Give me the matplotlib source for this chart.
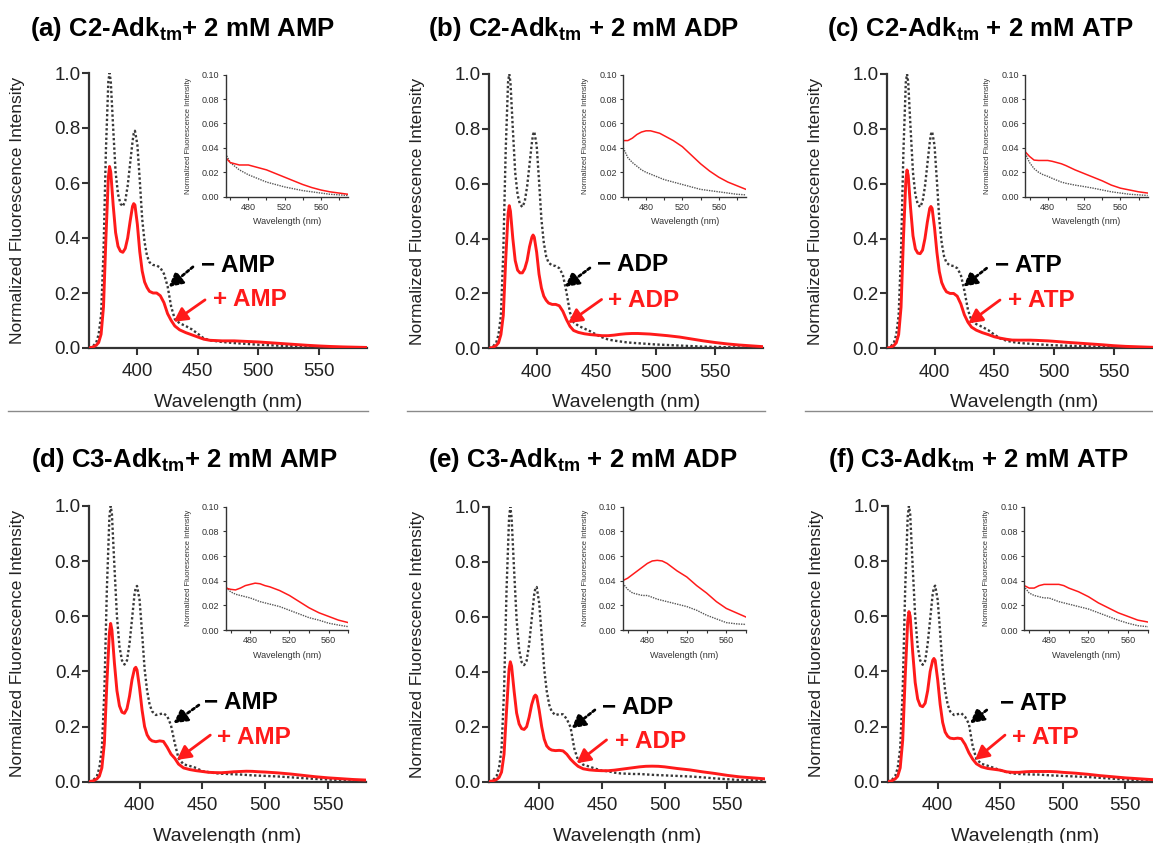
import matplotlib
matplotlib.use("Agg")
import matplotlib.pyplot as plt
from matplotlib.ticker import FormatStrFormatter

plt.rcParams['font.family'] = ['Liberation Sans', 'DejaVu Sans']
plt.rcParams['mathtext.fontset'] = 'custom'
plt.rcParams['mathtext.rm'] = 'Liberation Sans'
plt.rcParams['mathtext.bf'] = 'Liberation Sans:bold'
plt.rcParams['mathtext.it'] = 'Liberation Sans:italic'

# ---------------------------------------------------------------- data
wavelength = [360, 363, 366, 368, 370, 372, 374, 376, 377, 378,
              380, 382, 384, 386, 388, 390, 392, 394, 396, 397, 398,
              400, 402, 404, 406, 408, 410,
              413, 416, 419, 422, 425, 428, 431, 435, 440, 445, 450,
              455, 460, 465, 470, 475, 480, 485, 490, 495, 500,
              510, 520, 530, 540, 550, 560, 570, 580, 590]

titles = [r"(a) C2-Adk$_{\mathbf{tm}}$+ 2 mM AMP",
          r"(b) C2-Adk$_{\mathbf{tm}}$ + 2 mM ADP",
          r"(c) C2-Adk$_{\mathbf{tm}}$ + 2 mM ATP",
          r"(d) C3-Adk$_{\mathbf{tm}}$+ 2 mM AMP",
          r"(e) C3-Adk$_{\mathbf{tm}}$ + 2 mM ADP",
          r"(f) C3-Adk$_{\mathbf{tm}}$ + 2 mM ATP"]
nucleotides = ["AMP", "ADP", "ATP", "AMP", "ADP", "ATP"]

# (a) C2 + AMP
c2_amp_free = [0.000, 0.005, 0.020, 0.050, 0.120, 0.350, 0.720, 0.970, 1.000, 0.970,
               0.800, 0.640, 0.560, 0.525, 0.515, 0.535, 0.590, 0.670, 0.750, 0.780, 0.790,
               0.740, 0.610, 0.470, 0.385, 0.335, 0.312,
               0.302, 0.300, 0.292, 0.270, 0.225, 0.150, 0.105, 0.090, 0.080, 0.068, 0.052,
               0.035, 0.028, 0.025, 0.022, 0.020, 0.018, 0.0165, 0.015, 0.0135, 0.012,
               0.010, 0.008, 0.0065, 0.005, 0.004, 0.003, 0.002, 0.0015, 0.001]
c2_amp_bound = [0.000, 0.003, 0.010, 0.020, 0.050, 0.150, 0.400, 0.620, 0.660, 0.640,
                0.520, 0.420, 0.370, 0.352, 0.348, 0.362, 0.400, 0.460, 0.515, 0.525, 0.520,
                0.450, 0.350, 0.280, 0.240, 0.220, 0.206,
                0.200, 0.200, 0.190, 0.165, 0.125, 0.100, 0.080, 0.066, 0.056, 0.048, 0.040,
                0.032, 0.028, 0.027, 0.026, 0.026, 0.026, 0.025, 0.024, 0.023, 0.022,
                0.019, 0.016, 0.013, 0.010, 0.0075, 0.0055, 0.004, 0.003, 0.002]

# (b) C2 + ADP
c2_adp_free = [0.000, 0.005, 0.020, 0.050, 0.120, 0.350, 0.720, 0.970, 1.000, 0.970,
               0.800, 0.640, 0.560, 0.525, 0.515, 0.535, 0.590, 0.670, 0.750, 0.780, 0.790,
               0.740, 0.610, 0.470, 0.385, 0.335, 0.312,
               0.302, 0.300, 0.292, 0.268, 0.205, 0.130, 0.095, 0.082, 0.072, 0.062, 0.050,
               0.040, 0.032, 0.028, 0.025, 0.022, 0.020, 0.0185, 0.017, 0.0155, 0.014,
               0.012, 0.010, 0.008, 0.006, 0.005, 0.004, 0.003, 0.002, 0.0015]
c2_adp_bound = [0.000, 0.003, 0.010, 0.020, 0.050, 0.120, 0.320, 0.490, 0.520, 0.500,
                0.400, 0.320, 0.285, 0.275, 0.275, 0.290, 0.320, 0.370, 0.405, 0.413, 0.405,
                0.350, 0.270, 0.220, 0.190, 0.175, 0.165,
                0.160, 0.160, 0.155, 0.135, 0.105, 0.080, 0.065, 0.058, 0.053, 0.050, 0.048,
                0.046, 0.046, 0.048, 0.051, 0.053, 0.054, 0.054, 0.053, 0.052, 0.050,
                0.046, 0.041, 0.034, 0.027, 0.021, 0.016, 0.012, 0.009, 0.006]

# (c) C2 + ATP
c2_atp_free = [0.000, 0.005, 0.020, 0.050, 0.120, 0.350, 0.720, 0.970, 1.000, 0.970,
               0.800, 0.640, 0.560, 0.525, 0.515, 0.535, 0.590, 0.670, 0.750, 0.780, 0.790,
               0.740, 0.610, 0.470, 0.385, 0.335, 0.312,
               0.302, 0.300, 0.292, 0.268, 0.210, 0.140, 0.100, 0.088, 0.078, 0.066, 0.050,
               0.036, 0.028, 0.023, 0.020, 0.018, 0.0167, 0.015, 0.0135, 0.012, 0.011,
               0.0095, 0.0083, 0.007, 0.0055, 0.004, 0.003, 0.002, 0.0015, 0.001]
c2_atp_bound = [0.000, 0.003, 0.010, 0.020, 0.050, 0.150, 0.400, 0.610, 0.650, 0.630,
                0.510, 0.410, 0.362, 0.347, 0.345, 0.358, 0.400, 0.460, 0.510, 0.517, 0.510,
                0.440, 0.350, 0.280, 0.240, 0.220, 0.206,
                0.200, 0.200, 0.190, 0.162, 0.122, 0.095, 0.077, 0.066, 0.057, 0.050, 0.042,
                0.037, 0.033, 0.030, 0.0297, 0.0297, 0.0297, 0.029, 0.028, 0.027, 0.0255,
                0.022, 0.019, 0.016, 0.013, 0.0095, 0.007, 0.0055, 0.004, 0.003]

# (d) C3 + AMP
c3_amp_free = [0.000, 0.005, 0.020, 0.050, 0.120, 0.330, 0.700, 0.960, 1.000, 0.970,
               0.780, 0.600, 0.490, 0.440, 0.425, 0.440, 0.500, 0.590, 0.680, 0.705, 0.710,
               0.660, 0.540, 0.410, 0.330, 0.280, 0.255,
               0.242, 0.245, 0.248, 0.238, 0.205, 0.140, 0.085, 0.063, 0.057, 0.050, 0.038,
               0.035, 0.031, 0.029, 0.028, 0.027, 0.026, 0.0245, 0.023, 0.022, 0.021,
               0.019, 0.016, 0.013, 0.010, 0.008, 0.0055, 0.004, 0.0027, 0.002]
c3_amp_bound = [0.000, 0.003, 0.010, 0.020, 0.050, 0.140, 0.360, 0.540, 0.574, 0.550,
                0.430, 0.330, 0.275, 0.252, 0.248, 0.265, 0.310, 0.370, 0.410, 0.415, 0.405,
                0.340, 0.260, 0.200, 0.170, 0.155, 0.148,
                0.145, 0.148, 0.146, 0.125, 0.100, 0.085, 0.064, 0.050, 0.044, 0.040, 0.037,
                0.034, 0.033, 0.0325, 0.034, 0.036, 0.037, 0.038, 0.0375, 0.036, 0.035,
                0.032, 0.028, 0.023, 0.018, 0.014, 0.011, 0.008, 0.006, 0.005]

# (e) C3 + ADP
c3_adp_free = [0.000, 0.005, 0.020, 0.050, 0.120, 0.330, 0.700, 0.960, 1.000, 0.960,
               0.770, 0.590, 0.480, 0.435, 0.424, 0.440, 0.500, 0.590, 0.680, 0.705, 0.708,
               0.650, 0.530, 0.410, 0.330, 0.280, 0.255,
               0.242, 0.246, 0.245, 0.228, 0.198, 0.120, 0.078, 0.062, 0.055, 0.047, 0.040,
               0.038, 0.033, 0.030, 0.029, 0.028, 0.028, 0.0265, 0.025, 0.024, 0.023,
               0.021, 0.019, 0.016, 0.012, 0.009, 0.006, 0.005, 0.0045, 0.004]
c3_adp_bound = [0.000, 0.003, 0.008, 0.015, 0.035, 0.100, 0.260, 0.410, 0.436, 0.420,
                0.330, 0.250, 0.210, 0.193, 0.190, 0.200, 0.235, 0.280, 0.310, 0.315, 0.310,
                0.260, 0.200, 0.155, 0.130, 0.120, 0.115,
                0.113, 0.114, 0.112, 0.100, 0.082, 0.068, 0.056, 0.047, 0.043, 0.041, 0.040,
                0.040, 0.042, 0.045, 0.048, 0.051, 0.054, 0.056, 0.0565, 0.056, 0.054,
                0.048, 0.043, 0.036, 0.030, 0.023, 0.0175, 0.014, 0.0105, 0.008]

# (f) C3 + ATP
c3_atp_free = [0.000, 0.005, 0.020, 0.050, 0.120, 0.330, 0.700, 0.960, 1.000, 0.970,
               0.780, 0.600, 0.490, 0.440, 0.424, 0.438, 0.500, 0.590, 0.680, 0.705, 0.711,
               0.660, 0.540, 0.410, 0.330, 0.280, 0.255,
               0.242, 0.245, 0.248, 0.235, 0.210, 0.130, 0.082, 0.065, 0.058, 0.050, 0.042,
               0.035, 0.030, 0.028, 0.027, 0.026, 0.026, 0.0245, 0.023, 0.022, 0.021,
               0.019, 0.017, 0.014, 0.011, 0.008, 0.0055, 0.0035, 0.0027, 0.002]
c3_atp_bound = [0.000, 0.003, 0.010, 0.020, 0.050, 0.150, 0.380, 0.580, 0.617, 0.600,
                0.470, 0.360, 0.300, 0.276, 0.272, 0.285, 0.330, 0.400, 0.440, 0.447, 0.440,
                0.370, 0.280, 0.215, 0.180, 0.165, 0.158,
                0.156, 0.158, 0.156, 0.135, 0.105, 0.082, 0.065, 0.054, 0.048, 0.045, 0.042,
                0.036, 0.034, 0.034, 0.036, 0.037, 0.037, 0.037, 0.037, 0.036, 0.034,
                0.031, 0.027, 0.022, 0.018, 0.014, 0.011, 0.008, 0.0065, 0.005]

free_spectra = [c2_amp_free, c2_adp_free, c2_atp_free, c3_amp_free, c3_adp_free, c3_atp_free]
bound_spectra = [c2_amp_bound, c2_adp_bound, c2_atp_bound, c3_amp_bound, c3_adp_bound, c3_atp_bound]

main_ticks_x = [400, 450, 500, 550]
main_ticks_y = [0.0, 0.2, 0.4, 0.6, 0.8, 1.0]
inset_ticks_x = [480, 520, 560]
inset_minor_x = [460, 500, 540, 580]
inset_ticks_y = [0.00, 0.02, 0.04, 0.06, 0.08, 0.10]

# ---------------------------------------------------------------- layout (pixels)
W, H = 1153, 843
fig = plt.figure(figsize=(W / 100, H / 100), dpi=100)


def box(left, top, right, bottom):
    return [left / W, 1 - bottom / H, (right - left) / W, (bottom - top) / H]


main_boxes = [(89, 73, 367, 348), (489, 74, 763, 348.3), (886.7, 74, 1161.6, 348.3),
              (89.3, 506, 365.7, 781.7), (489, 506.7, 765, 781.7), (887.7, 506, 1162.5, 781.7)]
main_xmax = [590, 590, 590, 580, 580, 580]
inset_boxes = [(225.7, 74.7, 348, 196.7), (623.3, 74.7, 746, 196.7), (1025, 74.7, 1147.7, 196.7),
               (225.7, 506.7, 348.3, 630), (622.7, 506.7, 746, 630), (1024.3, 506.7, 1147.7, 630)]
title_x = [183, 583, 980, 184, 583, 978]
title_base = [36, 36, 36, 466.7, 466.7, 466.7]

# label anchors in data units: (minus text, plus text, black tail, black head, red tail, red head)
notes = [
    ((452.7, 0.309), (462.7, 0.182), (446.0, 0.295), (426.0, 0.222), (456.0, 0.175), (430.0, 0.095)),
    ((450.3, 0.311), (459.7, 0.183), (444.7, 0.293), (423.7, 0.224), (454.5, 0.178), (426.5, 0.092)),
    ((450.6, 0.310), (461.1, 0.182), (443.6, 0.292), (424.1, 0.225), (454.8, 0.176), (428.3, 0.091)),
    ((450.9, 0.296), (461.6, 0.169), (447.2, 0.278), (427.0, 0.212), (456.3, 0.169), (429.7, 0.079)),
    ((449.7, 0.279), (460.3, 0.152), (444.4, 0.261), (425.8, 0.194), (453.7, 0.152), (429.8, 0.067)),
    ((449.9, 0.290), (459.8, 0.169), (439.3, 0.260), (425.9, 0.212), (453.9, 0.169), (429.9, 0.079)),
]

RED = '#ff1a1a'
DARK = '#383838'
SPINE = '#333333'
HEAD = '-|>,head_length=0.75,head_width=0.4'

for i in range(6):
    l, t, r, b = main_boxes[i]
    ax = fig.add_axes(box(l, t, r, b))
    ax.plot(wavelength, free_spectra[i], color=DARK, lw=1.7, ls=(0, (1, 1)), zorder=3)
    ax.plot(wavelength, bound_spectra[i], color=RED, lw=2.1, zorder=4)
    ax.set_xlim(360, main_xmax[i])
    ax.set_ylim(0, 1.0)
    ax.set_xticks(main_ticks_x)
    ax.set_yticks(main_ticks_y)
    ax.yaxis.set_major_formatter(FormatStrFormatter('%.1f'))
    for s in ('top', 'right'):
        ax.spines[s].set_visible(False)
    for s in ('left', 'bottom'):
        ax.spines[s].set_linewidth(1.6)
        ax.spines[s].set_color(SPINE)
    ax.tick_params(axis='both', direction='out', length=5, width=1.5, color=SPINE,
                   labelsize=13.5, labelcolor='#222222')
    ax.tick_params(axis='x', pad=6)
    ax.tick_params(axis='y', pad=1)
    ax.patch.set_alpha(0)

    # axis titles
    fig.text((l + r) / 2 / W, 1 - (b + 59) / H, "Wavelength (nm)", ha='center',
             va='baseline', fontsize=14, color='#222222')
    fig.text((l - 71.5) / W, 1 - (t + b) / 2 / H, "Normalized Fluorescence Intensity",
             rotation=90, ha='center', va='center', fontsize=12.5, color='#222222')

    # panel title
    fig.text(title_x[i] / W, 1 - title_base[i] / H, titles[i], ha='center', va='baseline',
             fontsize=18.5, fontweight='bold', color='black')

    # arrows and condition labels
    minus_xy, plus_xy, btail, bhead, rtail, rhead = notes[i]
    ax.text(minus_xy[0], minus_xy[1] - 0.031, "\u2212 " + nucleotides[i], fontsize=17.5,
            fontweight='bold', color='black', ha='left', va='baseline')
    ax.text(plus_xy[0], plus_xy[1] - 0.031, "+ " + nucleotides[i], fontsize=17.5,
            fontweight='bold', color=RED, ha='left', va='baseline')
    ax.annotate('', xy=bhead, xytext=btail,
                arrowprops=dict(arrowstyle=HEAD, color='black', lw=2.0, ls=(0, (1, 1)),
                                shrinkA=0, shrinkB=0, mutation_scale=11))
    ax.annotate('', xy=rhead, xytext=rtail,
                arrowprops=dict(arrowstyle=HEAD, color=RED, lw=2.0,
                                shrinkA=0, shrinkB=0, mutation_scale=11))

    # inset: long-wavelength region
    il, it, ir, ib = inset_boxes[i]
    ins = fig.add_axes(box(il, it, ir, ib))
    ins.plot(wavelength, free_spectra[i], color='#555555', lw=1.0, ls=(0, (1, 0.8)))
    ins.plot(wavelength, bound_spectra[i], color=RED, lw=1.1)
    ins.set_xlim(455, main_xmax[i])
    ins.set_ylim(0, 0.10)
    ins.set_xticks(inset_ticks_x)
    ins.set_xticks(inset_minor_x, minor=True)
    ins.set_yticks(inset_ticks_y)
    ins.yaxis.set_major_formatter(FormatStrFormatter('%.2f'))
    for s in ('top', 'right'):
        ins.spines[s].set_visible(False)
    for s in ('left', 'bottom'):
        ins.spines[s].set_linewidth(1.0)
        ins.spines[s].set_color(SPINE)
    ins.tick_params(axis='both', which='both', direction='out', length=2.5, width=0.8,
                    color=SPINE, labelsize=6.5, labelcolor='#333333', pad=2)
    ins.patch.set_alpha(0)
    fig.text((il + ir) / 2 / W, 1 - (ib + 27.5) / H, "Wavelength (nm)", ha='center',
             va='baseline', fontsize=6.5, color='#333333')
    fig.text((il - 37.4) / W, 1 - (it + ib) / 2 / H, "Normalized Fluorescence Intensity",
             rotation=90, ha='center', va='center', fontsize=5.4, color='#333333')

# thin separators under the top row
for x0, x1 in [(8, 368), (407, 765), (805, 1153)]:
    fig.add_artist(plt.Line2D([x0 / W, x1 / W], [1 - 411 / H, 1 - 411 / H],
                              color='#8a8a8a', lw=1.0))

fig.savefig("out.png", dpi=100)
